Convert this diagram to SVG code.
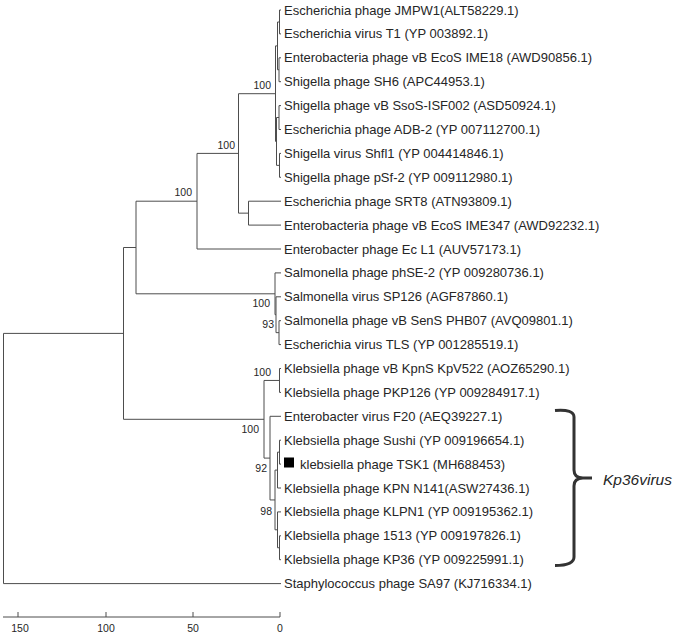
<svg xmlns="http://www.w3.org/2000/svg" width="675" height="634" viewBox="0 0 675 634">
<style>
.br{fill:none;stroke:#4d4d4d;stroke-width:1}
.lf{font-family:"Liberation Sans",Arial,sans-serif;font-size:13px;fill:#262626}
.bs{font-family:"Liberation Sans",Arial,sans-serif;font-size:10.5px;fill:#262626;text-anchor:end}
.sc{font-family:"Liberation Sans",Arial,sans-serif;font-size:10.5px;fill:#262626;text-anchor:middle}
.brace{fill:none;stroke:#333;stroke-width:3;stroke-linecap:butt}
.clade{font-family:"Liberation Sans",Arial,sans-serif;font-size:15.5px;font-style:italic;fill:#262626}
</style>
<rect width="675" height="634" fill="#fff"/>
<g id="connectors" class="br">
<path d="M279.5,10V33.9M279,57.8V81.7M277.5,22V69.75M279,105.6V129.5M279.5,153.4V177.3M276.5,117.5V165.35M275.5,45.9V141.4M248.5,201.2V225.1M238.5,93.7V213.15M197,153.4V249M279,320.7V344.6M276,296.8V332.65M275,272.9V314.7M136,201.2V293.8M279.5,368.5V392.4M279.5,440.2V464.1M277.5,452.15V488M279.5,535.8V559.7M277.5,511.9V547.75M275,470.1V529.8M270,416.3V499.95M264,380.45V458.1M123.5,247.5V419.3M3.5,333.4V583.6"/>
<path d="M279.5,10H281M279.5,33.9H281M279,57.8H281M279,81.7H281M279,105.6H281M279,129.5H281M279.5,153.4H281M279.5,177.3H281M248.5,201.2H281M248.5,225.1H281M197,249H281M275,272.9H281M276,296.8H281M279,320.7H281M279,344.6H281M279.5,368.5H281M279.5,392.4H281M270,416.3H281M279.5,440.2H281M279.5,464.1H281M277.5,488H281M277.5,511.9H281M279.5,535.8H281M279.5,559.7H281M3.5,583.6H281"/>
<path d="M277.5,22H279.5M277.5,69.75H279M275.5,45.9H277.5M276.5,117.5H279M276.5,165.35H279.5M275.5,141.4H276.5M238.5,93.7H275.5M238.5,213.15H248.5M197,153.4H238.5M136,201.2H197M276,332.65H279M275,314.7H276M136,293.8H275M123.5,247.5H136M264,380.45H279.5M277.5,452.15H279.5M275,470.1H277.5M277.5,547.75H279.5M275,529.8H277.5M270,499.95H275M264,458.1H270M123.5,419.3H264M3.5,333.4H123.5"/>
</g>
<g id="leaf-01"><text class="lf" x="284" y="14.5">Escherichia phage JMPW1(ALT58229.1)</text></g>
<g id="leaf-02"><text class="lf" x="284" y="38.4">Escherichia virus T1 (YP 003892.1)</text></g>
<g id="leaf-03"><text class="lf" x="284" y="62.3">Enterobacteria phage vB EcoS IME18 (AWD90856.1)</text></g>
<g id="leaf-04"><text class="lf" x="284" y="86.2">Shigella phage SH6 (APC44953.1)</text></g>
<g id="leaf-05"><text class="lf" x="284" y="110.1">Shigella phage vB SsoS-ISF002 (ASD50924.1)</text></g>
<g id="leaf-06"><text class="lf" x="284" y="134">Escherichia phage ADB-2 (YP 007112700.1)</text></g>
<g id="leaf-07"><text class="lf" x="284" y="157.9">Shigella virus Shfl1 (YP 004414846.1)</text></g>
<g id="leaf-08"><text class="lf" x="284" y="181.8">Shigella phage pSf-2 (YP 009112980.1)</text></g>
<g id="leaf-09"><text class="lf" x="284" y="205.7">Escherichia phage SRT8 (ATN93809.1)</text></g>
<g id="leaf-10"><text class="lf" x="284" y="229.6">Enterobacteria phage vB EcoS IME347 (AWD92232.1)</text></g>
<g id="leaf-11"><text class="lf" x="284" y="253.5">Enterobacter phage Ec L1 (AUV57173.1)</text></g>
<g id="leaf-12"><text class="lf" x="284" y="277.4">Salmonella phage phSE-2 (YP 009280736.1)</text></g>
<g id="leaf-13"><text class="lf" x="284" y="301.3">Salmonella virus SP126 (AGF87860.1)</text></g>
<g id="leaf-14"><text class="lf" x="284" y="325.2">Salmonella phage vB SenS PHB07 (AVQ09801.1)</text></g>
<g id="leaf-15"><text class="lf" x="284" y="349.1">Escherichia virus TLS (YP 001285519.1)</text></g>
<g id="leaf-16"><text class="lf" x="284" y="373">Klebsiella phage vB KpnS KpV522 (AOZ65290.1)</text></g>
<g id="leaf-17"><text class="lf" x="284" y="396.9">Klebsiella phage PKP126 (YP 009284917.1)</text></g>
<g id="leaf-18"><text class="lf" x="284" y="420.8">Enterobacter virus F20 (AEQ39227.1)</text></g>
<g id="leaf-19"><text class="lf" x="284" y="444.7">Klebsiella phage Sushi (YP 009196654.1)</text></g>
<g id="leaf-20"><rect x="284" y="457.5" width="10" height="10" fill="#000"/><text class="lf" x="300" y="468.6">klebsiella phage TSK1 (MH688453)</text></g>
<g id="leaf-21"><text class="lf" x="284" y="492.5">Klebsiella phage KPN N141(ASW27436.1)</text></g>
<g id="leaf-22"><text class="lf" x="284" y="516.4">Klebsiella phage KLPN1 (YP 009195362.1)</text></g>
<g id="leaf-23"><text class="lf" x="284" y="540.3">Klebsiella phage 1513 (YP 009197826.1)</text></g>
<g id="leaf-24"><text class="lf" x="284" y="564.2">Klebsiella phage KP36 (YP 009225991.1)</text></g>
<g id="leaf-25"><text class="lf" x="284" y="588.1">Staphylococcus phage SA97 (KJ716334.1)</text></g>
<g id="bootstrap">
<text class="bs" x="271" y="88.5">100</text>
<text class="bs" x="235" y="148.5">100</text>
<text class="bs" x="192" y="195.5">100</text>
<text class="bs" x="270" y="306.5">100</text>
<text class="bs" x="274" y="327.5">93</text>
<text class="bs" x="271" y="375.5">100</text>
<text class="bs" x="259" y="432.5">100</text>
<text class="bs" x="267" y="471.5">92</text>
<text class="bs" x="272" y="514.5">98</text>
</g>
<g id="clade-kp36virus">
<path class="brace" d="M555,410.5Q574,409 574,417V470Q574,478 583,478H592M583,478Q574,478 574,486V557Q574,565.5 555,565.5"/>
<text class="clade" x="603" y="485">Kp36virus</text>
</g>
<g id="scale">
<path class="br" d="M3,617H280M18,612V617M106,612V617M193,612V617M280,612V617"/>
<text class="sc" x="20" y="632">150</text>
<text class="sc" x="106" y="632">100</text>
<text class="sc" x="193" y="632">50</text>
<text class="sc" x="280" y="632">0</text>
</g>
</svg>
